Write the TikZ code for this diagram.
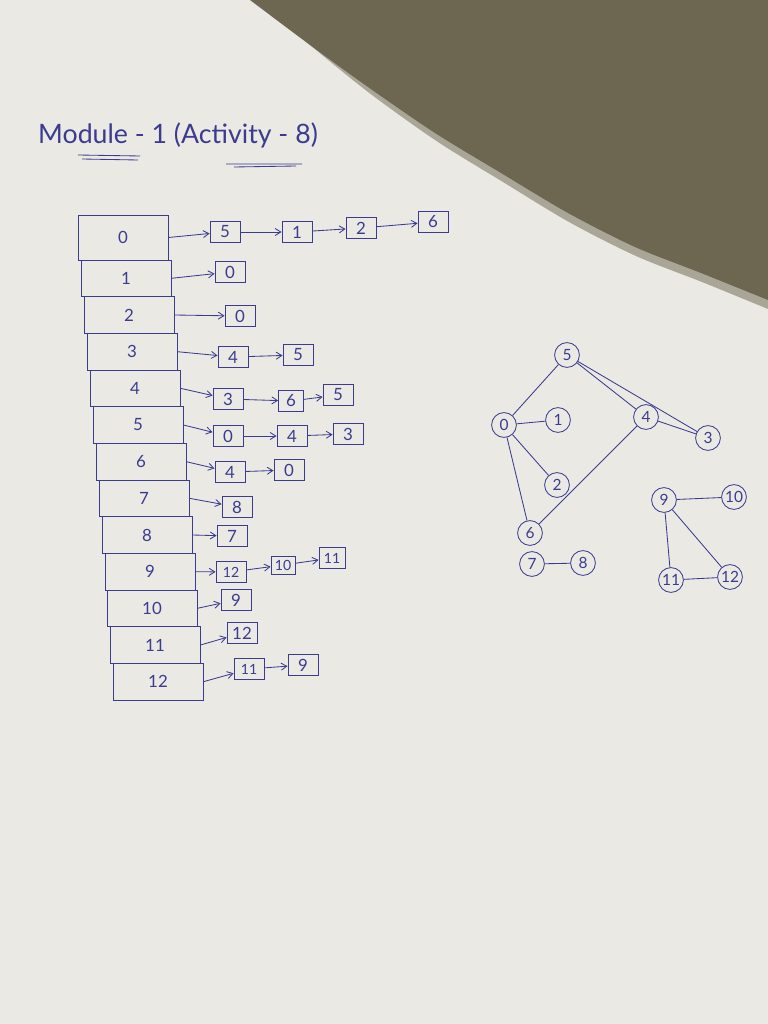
\documentclass[tikz,border=0pt]{standalone}
\usepackage{fontspec}
\setmainfont{Lato}
\usetikzlibrary{arrows.meta}
\definecolor{ink}{HTML}{3B3C8F}
\definecolor{paper}{HTML}{EAE9E4}
\definecolor{shadowgray}{HTML}{6D6651}
\definecolor{shadowedge}{HTML}{A9A597}

\begin{document}
\begin{tikzpicture}[
      x=0.025cm, y=-0.025cm,
      every node/.style={font=\fontsize{12}{14}\selectfont, text=ink},
      cell/.style={draw=ink, line width=0.6pt, minimum width=2.25cm, minimum height=0.917cm, inner sep=0pt},
      item/.style={draw=ink, line width=0.6pt, minimum width=0.75cm, minimum height=0.52cm, inner sep=1pt},
      vertex/.style={draw=ink, line width=0.6pt, circle, minimum size=0.62cm, inner sep=0pt,
        font=\fontsize{11}{13}\selectfont},
      link/.style={draw=ink, line width=0.6pt, -{Straight Barb[length=4pt, width=5pt]}},
      tie/.style={draw=ink, line width=0.6pt},
      small/.style={font=\fontsize{10}{12}\selectfont},
    ]
    % paper and shadow
    \fill[paper] (0,0) rectangle (768,1024);
    \fill[shadowedge] plot[smooth] coordinates {(256,0) (316,50) (372,95) (438,142) (503,182)
      (569,222) (636,256) (702,282) (768,309)} -- (768,0) -- cycle;
    \fill[shadowgray] plot[smooth] coordinates {(250,0) (310,45) (368,87) (435,133) (501,173)
      (568,213) (635,247) (701,273) (768,300)} -- (768,0) -- cycle;
    \useasboundingbox (0,0) rectangle (768,1024);

    % title
    \node[font=\fontsize{19}{22}\selectfont] (title) at (178,135) {Module - 1 (Activity - 8)};
    \draw[ink, line width=0.6pt] (78,155) -- (140,156) (82,159) -- (138,160);
    \draw[ink, line width=0.6pt] (226,164) -- (302,164) (234,167) -- (296,166);

    % adjacency table
    \node[cell, minimum height=1.125cm] (r0) at (123,237.5) {0};
    \node[cell] (r1) at (126,278.3) {1};
    \node[cell] (r2) at (129,315) {2};
    \node[cell] (r3) at (132,351.7) {3};
    \node[cell] (r4) at (135,388.3) {4};
    \node[cell] (r5) at (138,425) {5};
    \node[cell] (r6) at (141,461.7) {6};
    \node[cell] (r7) at (144,498.3) {7};
    \node[cell] (r8) at (147,535) {8};
    \node[cell] (r9) at (150,571.7) {9};
    \node[cell] (r10) at (152,608.3) {10};
    \node[cell] (r11) at (155,645) {11};
    \node[cell] (r12) at (158,681.7) {12};

    % lists
    \node[item] (l0a) at (225,232) {5};
    \node[item] (l0b) at (297,232) {1};
    \node[item] (l0c) at (361,228) {2};
    \node[item] (l0d) at (433,222) {6};
    \node[item] (l1a) at (230,272) {0};
    \node[item] (l2a) at (240,316) {0};
    \node[item] (l3a) at (233,357) {4};
    \node[item] (l3b) at (298,355) {5};
    \node[item] (l4a) at (228,399) {3};
    \node[item, minimum width=0.62cm] (l4b) at (291,401) {6};
    \node[item] (l4c) at (338,395) {5};
    \node[item] (l5a) at (228,436) {0};
    \node[item] (l5b) at (292,436) {4};
    \node[item] (l5c) at (348,434) {3};
    \node[item] (l6a) at (230,472) {4};
    \node[item] (l6b) at (289,470) {0};
    \node[item] (l7a) at (237,507) {8};
    \node[item] (l8a) at (232,536) {7};
    \node[item, small] (l9a) at (231,572) {12};
    \node[item, small, minimum width=0.6cm, minimum height=0.45cm] (l9b) at (283,565) {10};
    \node[item, small, minimum width=0.65cm] (l9c) at (332,558) {11};
    \node[item] (l10a) at (236,600) {9};
    \node[item] (l11a) at (242,633) {12};
    \node[item, small] (l12a) at (249,669) {11};
    \node[item] (l12b) at (303,665) {9};

    \draw[link] (r0.east) -- (l0a);
    \draw[link] (l0a) -- (l0b);
    \draw[link] (l0b) -- (l0c);
    \draw[link] (l0c) -- (l0d);
    \draw[link] (r1.east) -- (l1a);
    \draw[link] (r2.east) -- (l2a);
    \draw[link] (r3.east) -- (l3a);
    \draw[link] (l3a) -- (l3b);
    \draw[link] (r4.east) -- (l4a);
    \draw[link] (l4a) -- (l4b);
    \draw[link] (l4b) -- (l4c);
    \draw[link] (r5.east) -- (l5a);
    \draw[link] (l5a) -- (l5b);
    \draw[link] (l5b) -- (l5c);
    \draw[link] (r6.east) -- (l6a);
    \draw[link] (l6a) -- (l6b);
    \draw[link] (r7.east) -- (l7a);
    \draw[link] (r8.east) -- (l8a);
    \draw[link] (r9.east) -- (l9a);
    \draw[link] (l9a) -- (l9b);
    \draw[link] (l9b) -- (l9c);
    \draw[link] (r10.east) -- (l10a);
    \draw[link] (r11.east) -- (l11a);
    \draw[link] (r12.east) -- (l12a);
    \draw[link] (l12a) -- (l12b);

    % graph
    \node[vertex] (v5) at (567,355) {5};
    \node[vertex] (v0) at (504,425) {0};
    \node[vertex] (v1) at (558,420) {1};
    \node[vertex] (v4) at (646,417) {4};
    \node[vertex] (v3) at (708,438) {3};
    \node[vertex] (v2) at (557,485) {2};
    \node[vertex] (v6) at (530,533) {6};
    \node[vertex] (v7) at (532,564) {7};
    \node[vertex] (v8) at (583,563) {8};
    \node[vertex] (v9) at (664,500) {9};
    \node[vertex] (v10) at (734,497) {10};
    \node[vertex] (v11) at (671,580) {11};
    \node[vertex] (v12) at (730,577) {12};

    \draw[tie] (v5) -- (v0);
    \draw[tie] (v5) -- (v4);
    \draw[tie] (v5) -- (v3);
    \draw[tie] (v0) -- (v1);
    \draw[tie] (v0) -- (v2);
    \draw[tie] (v0) -- (v6);
    \draw[tie] (v4) -- (v3);
    \draw[tie] (v4) -- (v6);
    \draw[tie] (v7) -- (v8);
    \draw[tie] (v9) -- (v10);
    \draw[tie] (v9) -- (v11);
    \draw[tie] (v9) -- (v12);
    \draw[tie] (v11) -- (v12);
  \end{tikzpicture}
\end{document}
